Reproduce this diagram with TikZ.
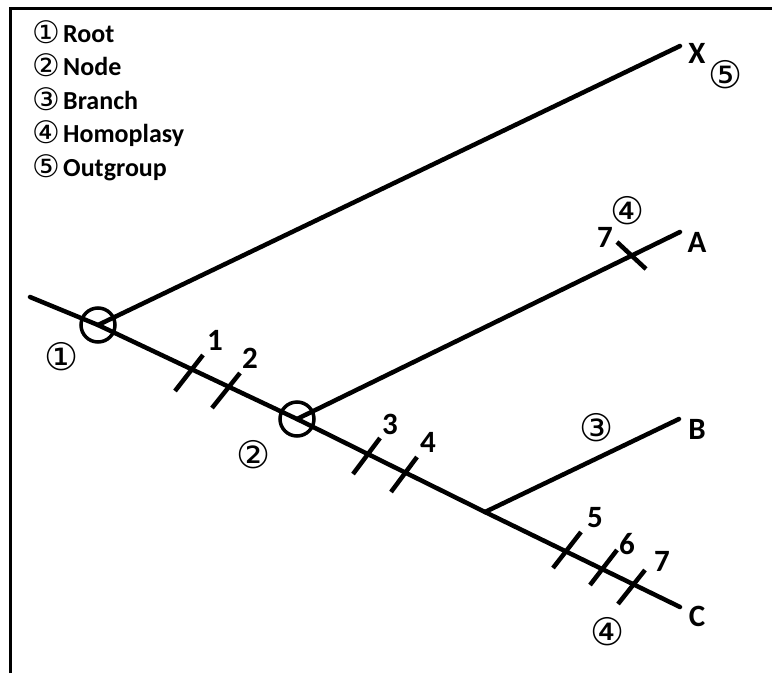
\documentclass[tikz,border=0pt]{standalone}
\usepackage{fontspec}
\setmainfont{Carlito}[Numbers=Lining]
\newfontfamily\circfont{DejaVu Sans}
\newcommand{\lc}[1]{\makebox[31pt][l]{\mdseries\circfont\fontsize{31}{31}\selectfont\raisebox{-1pt}{#1}}}
\begin{document}
\begin{tikzpicture}[x=1pt,y=-1pt,
  branch/.style={line width=4.5pt,line cap=round},
  tick/.style={line width=4.5pt},
  ring/.style={circle,draw,line width=3.5pt,minimum size=34pt,inner sep=0pt},
  legend/.style={anchor=base west,inner sep=0pt,font=\fontsize{26}{28}\selectfont\bfseries},
  leaf/.style={inner sep=0pt,font=\fontsize{31}{34}\selectfont\bfseries},
  num/.style={inner sep=0pt,font=\fontsize{31}{34}\selectfont\bfseries},
  cnum/.style={inner sep=0pt,font=\fontsize{38}{40}\circfont}]
\useasboundingbox (0,0) rectangle (772,673);
\fill[white] (0,0) rectangle (772,673);
% frame
\draw[line width=3pt] (10,673) -- (10,8) -- (772,8);
% legend
\node[legend] (l1) at (32,42) {\lc{①}Root};
\node[legend] (l2) at (32,75) {\lc{②}Node};
\node[legend] (l3) at (32,109) {\lc{③}Branch};
\node[legend] (l4) at (32,142) {\lc{④}Homoplasy};
\node[legend] (l5) at (32,176) {\lc{⑤}Outgroup};
% tree points
\coordinate (s) at (30,297);
\coordinate (r) at (98,325);
\coordinate (n) at (297,419);
\coordinate (bp) at (485,512);
\coordinate (xe) at (680,46);
\coordinate (ae) at (680,232);
\coordinate (be) at (679,419);
\coordinate (ce) at (680,607);
\draw[branch] (s) -- (r) -- (n) -- (bp) -- (ce);
\draw[branch] (r) -- (xe);
\draw[branch] (n) -- (ae);
\draw[branch] (bp) -- (be);
\node[ring] (root) at (r) {};
\node[ring] (node2) at (n) {};
% ticks
\foreach \a/\b in {{175,391}/{203,355},{212,408}/{240,373},{353,474}/{380,438},{391,492}/{417,457},{553,568}/{581,532},{590,585}/{617,550},{618,604}/{645,570},{617,242}/{646,269}}
  \draw[tick] (\a) -- (\b);
% labels
\node[leaf] (X) at (697,53) {X};
\node[leaf] (A) at (697,242) {A};
\node[leaf] (B) at (697,429) {B};
\node[leaf] (C) at (697,616) {C};
\node[num] (t1) at (215,340) {1};
\node[num] (t2) at (250,358) {2};
\node[num] (t3) at (390,424) {3};
\node[num] (t4) at (428,442) {4};
\node[num] (t5) at (595,518) {5};
\node[num] (t6) at (627,544) {6};
\node[num] (t7) at (662,561) {7};
\node[num] (t7a) at (605,237) {7};
\node[cnum] (c1) at (62,357) {①};
\node[cnum] (c2) at (254,455) {②};
\node[cnum] (c3) at (597,428) {③};
\node[cnum] (c4a) at (628,211) {④};
\node[cnum] (c4b) at (608,632) {④};
\node[cnum] (c5) at (726,75) {⑤};
\end{tikzpicture}
\end{document}
